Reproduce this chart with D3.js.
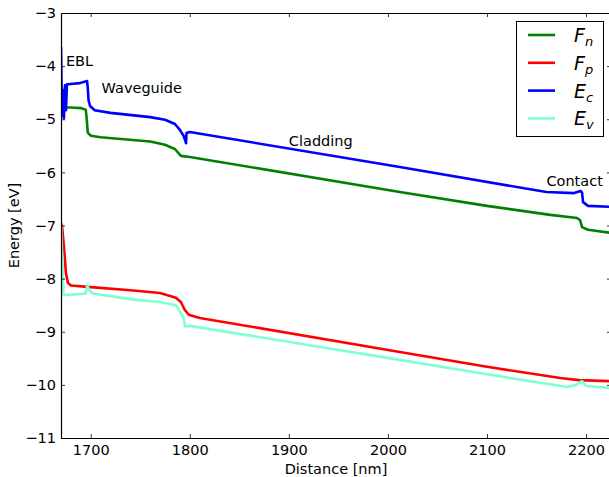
<!DOCTYPE html>
<html>
<head>
<meta charset="utf-8">
<script src="https://cdn.jsdelivr.net/npm/d3@7"></script>
<style>
  body { margin: 0; background: #fff; }
  text { font-family: "DejaVu Sans", sans-serif; }
</style>
</head>
<body>
<div id="chart"></div>
<script>
// band diagram values, [distance nm, energy eV]
const fn = [
  [1670, -4.62], [1672, -4.78], [1680, -4.78], [1690, -4.79], [1695, -4.82],
  [1696, -5.0], [1697, -5.25], [1700, -5.31], [1710, -5.34], [1760, -5.42],
  [1775, -5.48], [1785, -5.56], [1791, -5.69], [1800, -5.71], [2012, -6.37],
  [2100, -6.63], [2164, -6.80], [2191, -6.86], [2194, -6.9], [2196, -7.03],
  [2202, -7.08], [2225, -7.14]
]
const fp = [
  [1670, -6.95], [1671, -7.0], [1673, -7.4], [1675, -7.9], [1677, -8.08],
  [1680, -8.13], [1700, -8.16], [1740, -8.22], [1770, -8.27], [1786, -8.36],
  [1791, -8.44], [1795, -8.59], [1799, -8.68], [1810, -8.74], [2012, -9.38],
  [2100, -9.66], [2174, -9.87], [2193, -9.91], [2225, -9.93]
]
const ec = [
  [1670, -3.64], [1671, -4.94], [1672, -4.45], [1673, -4.98], [1674, -4.36],
  [1675, -4.83], [1676, -4.34], [1677, -4.34], [1689, -4.32], [1696.3, -4.28],
  [1697, -4.4], [1697.8, -4.64], [1699.3, -4.75], [1704, -4.83], [1720, -4.88],
  [1760, -4.96], [1775, -5.01], [1785, -5.09], [1790, -5.2], [1794, -5.32],
  [1796.2, -5.45], [1796.7, -5.26], [1800, -5.24], [2012, -5.9], [2160, -6.37],
  [2188, -6.39], [2194.4, -6.35], [2196, -6.38], [2197, -6.56], [2202, -6.63],
  [2225, -6.65]
]
const ev = [
  [1670, -6.95], [1671, -7.5], [1672.5, -8.3], [1675, -8.31], [1695, -8.28],
  [1696.5, -8.12], [1698, -8.2], [1702, -8.28], [1720, -8.33], [1745, -8.4],
  [1770, -8.44], [1786, -8.5], [1790, -8.62], [1794, -8.75], [1795, -8.9],
  [1800, -8.89], [2012, -9.53], [2100, -9.8], [2181, -10.04], [2190, -10.0],
  [2196, -9.93], [2200, -10.02], [2225, -10.06]
]
const series = [
  { name: "F", sub: "n", color: "#008000", values: fn },
  { name: "F", sub: "p", color: "#ff0000", values: fp },
  { name: "E", sub: "c", color: "#0000ff", values: ec },
  { name: "E", sub: "v", color: "#7fffd4", values: ev }
]
const regions = [
  { label: "EBL", x: 1675, y: -4.0 },
  { label: "Waveguide", x: 1711, y: -4.5 },
  { label: "Cladding", x: 1900, y: -5.5 },
  { label: "Contact", x: 2160, y: -6.25 }
]
const xTicks = [1700, 1800, 1900, 2000, 2100, 2200]
const yTicks = [-3, -4, -5, -6, -7, -8, -9, -10, -11]

const width = 609
const height = 477
const margin = { top: 13, right: -2, bottom: 39, left: 61 }
const fontSize = 14.5

const svg = d3.select("#chart")
  .append("svg")
  .attr("width", width)
  .attr("height", height)

const x = d3.scaleLinear()
  .domain([1670, 2225.2])
  .range([margin.left, width - margin.right])
const y = d3.scaleLinear()
  .domain([-11, -3])
  .range([height - margin.bottom, margin.top])

svg.append("clipPath")
  .attr("id", "clip")
  .append("rect")
  .attr("x", margin.left)
  .attr("y", margin.top)
  .attr("width", width - margin.right - margin.left)
  .attr("height", height - margin.bottom - margin.top)

const line = d3.line()
  .x((d) => x(d[0]))
  .y((d) => y(d[1]))

svg.append("g")
  .attr("clip-path", "url(#clip)")
  .selectAll("path")
  .data(series)
  .join("path")
  .attr("fill", "none")
  .attr("stroke", (d) => d.color)
  .attr("stroke-width", 2.6)
  .attr("stroke-linejoin", "round")
  .attr("d", (d) => line(d.values))

// axes, ticks pointing inward on all four sides
const tickLen = 4
const axisStyle = (g) => {
  g.select(".domain").attr("stroke", "#000").attr("stroke-width", 1.2)
  g.selectAll(".tick line").attr("stroke", "#000").attr("stroke-width", 0.8)
  g.selectAll(".tick text").attr("font-size", fontSize).attr("fill", "#000")
    .attr("font-family", "DejaVu Sans")
}
const minus = (d) => String(d).replace("-", "\u2212")
svg.append("g")
  .attr("transform", `translate(0,${y(-11)})`)
  .call(d3.axisBottom(x).tickValues(xTicks).tickSizeInner(-tickLen).tickSizeOuter(0)
    .tickPadding(7).tickFormat(d3.format("d")))
  .call(axisStyle)
svg.append("g")
  .attr("transform", `translate(0,${y(-3)})`)
  .call(d3.axisTop(x).tickValues(xTicks).tickSizeInner(-tickLen).tickSizeOuter(0).tickFormat(""))
  .call(axisStyle)
svg.append("g")
  .attr("transform", `translate(${x(1670)},0)`)
  .call(d3.axisLeft(y).tickValues(yTicks).tickSizeInner(-tickLen).tickSizeOuter(0)
    .tickPadding(5).tickFormat(minus))
  .call(axisStyle)
svg.append("g")
  .attr("transform", `translate(${x(2225.2)},0)`)
  .call(d3.axisRight(y).tickValues(yTicks).tickSizeInner(-tickLen).tickSizeOuter(0).tickFormat(""))
  .call(axisStyle)

svg.append("text")
  .attr("x", (x(1670) + x(2225.2)) / 2)
  .attr("y", 474)
  .attr("text-anchor", "middle")
  .attr("font-size", fontSize)
  .text("Distance [nm]")
svg.append("text")
  .attr("transform", `translate(19,${(y(-3) + y(-11)) / 2}) rotate(-90)`)
  .attr("text-anchor", "middle")
  .attr("font-size", fontSize)
  .text("Energy [eV]")

svg.append("g")
  .selectAll("text")
  .data(regions)
  .join("text")
  .attr("x", (d) => x(d.x))
  .attr("y", (d) => y(d.y))
  .attr("font-size", fontSize)
  .text((d) => d.label)

// legend
const legend = svg.append("g")
legend.append("rect")
  .attr("x", 516.5)
  .attr("y", 21.5)
  .attr("width", 87)
  .attr("height", 115)
  .attr("fill", "#fff")
  .attr("stroke", "#000")
  .attr("stroke-width", 1)
const items = legend.selectAll("g")
  .data(series)
  .join("g")
  .attr("transform", (d, i) => `translate(0,${35 + i * 27.8})`)
items.append("line")
  .attr("x1", 528)
  .attr("x2", 555)
  .attr("stroke", (d) => d.color)
  .attr("stroke-width", 2.6)
const lab = items.append("text")
  .attr("x", 574)
  .attr("y", 7)
  .attr("font-family", "DejaVu Serif")
  .attr("font-style", "italic")
  .attr("font-size", 19)
lab.append("tspan").text((d) => d.name)
lab.append("tspan")
  .attr("dy", 4)
  .attr("font-size", 13)
  .text((d) => d.sub)
</script>
</body>
</html>
